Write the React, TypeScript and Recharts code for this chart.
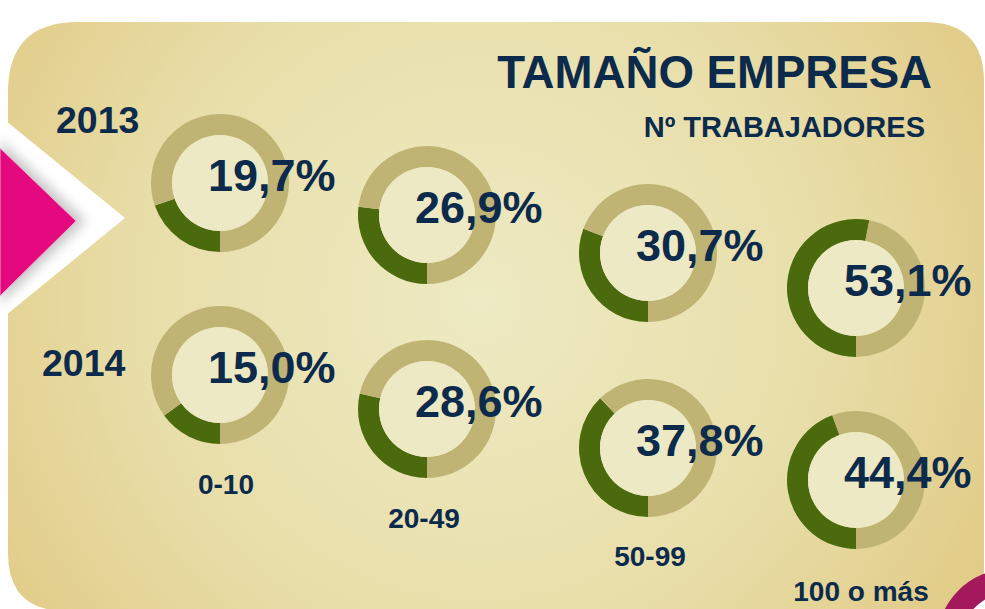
import React from 'react';
import { PieChart, Pie, Cell } from 'recharts';

// ---- data ----
const categories = ['0-10', '20-49', '50-99', '100 o más'];
const years = ['2013', '2014'];
const values2013 = [19.7, 26.9, 30.7, 53.1];
const values2014 = [15.0, 28.6, 37.8, 44.4];
const title = 'TAMAÑO EMPRESA';
const subtitle = 'Nº TRABAJADORES';

// ---- layout ----
const W = 985;
const H = 609;
const centers2013: [number, number][] = [[220, 183], [427, 215], [648, 253], [856, 288]];
const centers2014: [number, number][] = [[220, 375], [427, 409], [648, 448], [856, 480]];
const catLabelPos: [number, number][] = [[226, 494], [424, 528], [650, 566], [861, 601]];
const yearPos: [number, number][] = [[56, 133], [42, 376]];
const INNER = 48;
const OUTER = 69;

const GREEN = '#4b6a0d';
const TAN = '#bfb474';
const CREAM = '#ece9c4';
const NAVY = '#0c2a4b';
const FONT = '"Liberation Sans", Arial, Helvetica, sans-serif';

const fmt = (v: number) => v.toFixed(1).replace('.', ',') + '%';

const series = [
  { year: years[0], values: values2013, centers: centers2013 },
  { year: years[1], values: values2014, centers: centers2014 },
];

export default function App() {
  return (
    <div style={{ position: 'absolute', left: 0, top: 0, width: W, height: H, background: '#ffffff', overflow: 'hidden' }}>
      <svg width={W} height={H} style={{ position: 'absolute', left: 0, top: 0 }}>
        <defs>
          <radialGradient id="bg" cx="480" cy="300" r="620" gradientUnits="userSpaceOnUse">
            <stop offset="0" stopColor="#eeeac3" />
            <stop offset="0.55" stopColor="#e8dea9" />
            <stop offset="1" stopColor="#e0c77f" />
          </radialGradient>
          <filter id="sh" x="-50%" y="-50%" width="200%" height="200%">
            <feGaussianBlur stdDeviation="6" />
          </filter>
        </defs>
        <path
          d={`M 8 92 Q 8 22 78 22 L 924 22 Q 984 22 984 82 L 984 611 L 66 611 Q 8 611 8 553 Z`}
          fill="url(#bg)"
        />
        {/* white chevron */}
        <polygon points="0,116 125,218 0,320" fill="#ffffff" />
        <polygon points="0,140 86,221 0,304" fill="#9a9a9a" opacity={0.55} filter="url(#sh)" />
        <polygon points="0,148 76,221 0,296" fill="#e5097f" stroke="#f4a3c8" strokeWidth={1} />
        {/* magenta corner */}
        <circle cx={1010} cy={642} r={73} fill="#a3195c" />
        <circle cx={1018} cy={652} r={62} fill="#ffffff" />
      </svg>

      <div style={{ position: 'absolute', left: 0, top: 0 }}>
        <PieChart width={W} height={H} margin={{ top: 0, right: 0, bottom: 0, left: 0 }}>
          {series.map((s) =>
            s.values.map((v, i) => (
              <Pie
                key={`ring-${s.year}-${i}`}
                data={[{ name: 'sel', value: v }, { name: 'rest', value: 100 - v }]}
                dataKey="value"
                cx={s.centers[i][0]}
                cy={s.centers[i][1]}
                innerRadius={INNER}
                outerRadius={OUTER}
                startAngle={-90}
                endAngle={-450}
                stroke="none"
                isAnimationActive={false}
              >
                <Cell fill={GREEN} />
                <Cell fill={TAN} />
              </Pie>
            ))
          )}
          {series.map((s) =>
            s.values.map((v, i) => (
              <Pie
                key={`disc-${s.year}-${i}`}
                data={[{ name: 'disc', value: 1 }]}
                dataKey="value"
                cx={s.centers[i][0]}
                cy={s.centers[i][1]}
                innerRadius={0}
                outerRadius={INNER}
                startAngle={90}
                endAngle={-270}
                stroke="none"
                fill={CREAM}
                isAnimationActive={false}
              />
            ))
          )}
        </PieChart>
      </div>

      <svg width={W} height={H} style={{ position: 'absolute', left: 0, top: 0, pointerEvents: 'none' }}>
        <text x={932} y={88} textAnchor="end" fontFamily={FONT} fontWeight="bold" fontSize={45.6} fill={NAVY}>
          {title}
        </text>
        <text x={925} y={137} textAnchor="end" fontFamily={FONT} fontWeight="bold" fontSize={29} fill={NAVY}>
          {subtitle}
        </text>
        {series.map((s, si) => (
          <text key={`y-${s.year}`} x={yearPos[si][0]} y={yearPos[si][1]} fontFamily={FONT} fontWeight="bold" fontSize={37.5} fill={NAVY}>
            {s.year}
          </text>
        ))}
        {series.map((s) =>
          s.values.map((v, i) => (
            <text
              key={`p-${s.year}-${i}`}
              x={s.centers[i][0] - 12}
              y={s.centers[i][1] + 8}
              fontFamily={FONT}
              fontWeight="bold"
              fontSize={45}
              fill={NAVY}
            >
              {fmt(v)}
            </text>
          ))
        )}
        {categories.map((c, i) => (
          <text key={`c-${i}`} x={catLabelPos[i][0]} y={catLabelPos[i][1]} textAnchor="middle" fontFamily={FONT} fontWeight="bold" fontSize={28} fill={NAVY}>
            {c}
          </text>
        ))}
      </svg>
    </div>
  );
}
